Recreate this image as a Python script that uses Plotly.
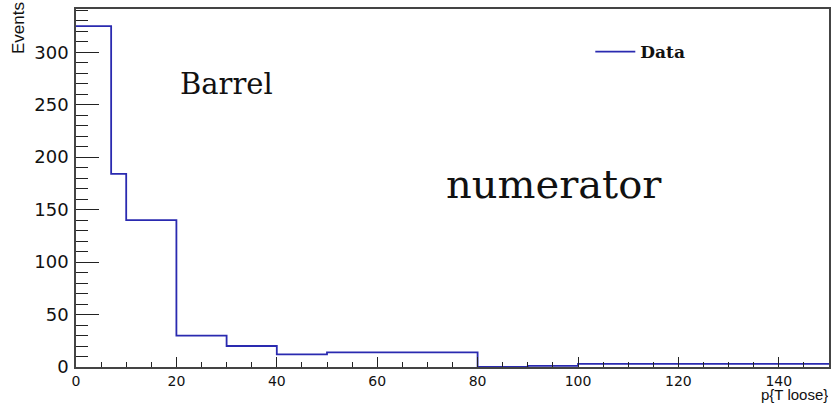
import plotly.graph_objects as go

# Histogram data (bin edges and counts)
bin_edges = [0, 7, 10, 20, 30, 40, 50, 80, 90, 100, 150]
counts = [325, 184, 140, 30, 20, 12, 14, 0, 1, 3]

x_ticks = [0, 20, 40, 60, 80, 100, 120, 140]
y_ticks = [0, 50, 100, 150, 200, 250, 300]

step_x = bin_edges
step_y = counts + [counts[-1]]

fig = go.Figure()
fig.add_trace(go.Scatter(
    x=step_x, y=step_y, mode="lines", line_shape="hv",
    line=dict(color="#2a2ab0", width=1.8), name="Data", showlegend=True,
))

axis_common = dict(
    showgrid=False, zeroline=False, showline=True, linecolor="#444",
    linewidth=1.5, mirror=True, ticks="inside", tickcolor="#222",
)

fig.update_layout(
    width=832, height=403,
    margin=dict(l=76, r=1, t=9, b=36),
    paper_bgcolor="white", plot_bgcolor="white",
    xaxis=dict(range=[0, 150], tickvals=x_ticks, ticklen=10,
               minor=dict(dtick=5, ticklen=5, ticks="inside", tickcolor="#222"),
               tickfont=dict(family="DejaVu Sans", size=14, color="#111"),
               **axis_common),
    yaxis=dict(range=[0, 341.25], tickvals=y_ticks, ticklen=23,
               minor=dict(dtick=10, ticklen=12, ticks="inside", tickcolor="#222"),
               tickfont=dict(family="DejaVu Sans", size=18, color="#111"),
               ticklabelstandoff=2, **axis_common),
    legend=dict(x=0.683, y=0.93, xanchor="left", yanchor="top",
                itemwidth=40,
                bgcolor="rgba(0,0,0,0)",
                font=dict(family="DejaVu Serif", size=17, color="#111", weight="bold")),
    annotations=[
        dict(text="Barrel", xref="paper", yref="paper", x=0.135, y=0.79,
             xanchor="left", yanchor="middle", showarrow=False,
             font=dict(family="DejaVu Serif", size=29, color="#111")),
        dict(text="numerator", xref="paper", yref="paper", x=0.489, y=0.51,
             xanchor="left", yanchor="middle", showarrow=False,
             font=dict(family="DejaVu Serif", size=40, color="#111")),
        dict(text="Events", xref="paper", yref="paper", x=0, y=1,
             xshift=-58, yshift=9, xanchor="center", yanchor="top",
             textangle=-90, showarrow=False,
             font=dict(family="Liberation Sans", size=17, color="#111")),
        dict(text="p{T loose}", xref="paper", yref="paper", x=1, y=0,
             xanchor="right", yanchor="bottom", yshift=-37, showarrow=False,
             borderpad=0, height=14, valign="bottom",
             font=dict(family="Liberation Sans", size=15, color="#111")),
    ],
)

fig.write_html("out.html")
